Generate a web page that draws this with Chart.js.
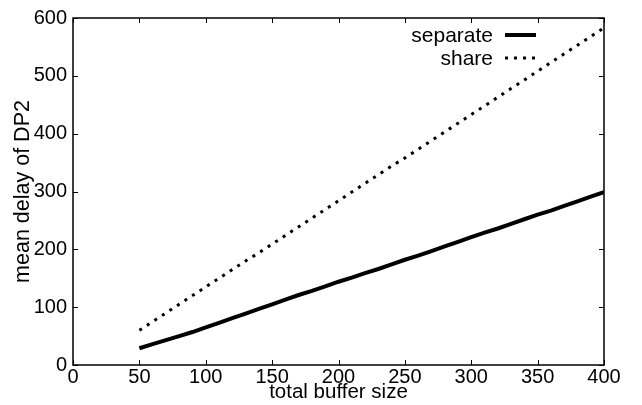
<!DOCTYPE html>
<html>
<head>
<meta charset="utf-8">
<script src="https://cdn.jsdelivr.net/npm/chart.js@4/dist/chart.umd.min.js"></script>
<style>
  html, body { margin: 0; padding: 0; background: #fff; }
  #wrap { width: 642px; height: 405px; }
</style>
</head>
<body>
<div id="wrap"><canvas id="delay-chart" width="642" height="405"></canvas></div>
<script>
// total buffer size
const bufferSizes = [50, 60, 70, 80, 90, 100, 110, 120, 130, 140, 150, 160, 170, 180, 190, 200, 210, 220,
    230, 240, 250, 260, 270, 280, 290, 300, 310, 320, 330, 340, 350, 360, 370, 380, 390, 400];
// mean delay of DP2
const separateDelay = [29, 36, 43, 50, 57, 65, 73, 81, 89, 97, 105, 113, 121, 128, 136, 144, 151, 159,
    166, 174, 182, 189, 197, 205, 213, 221, 229, 236, 244, 252, 260, 267, 275, 283, 291, 299];
const shareDelay = [60, 75, 90, 105, 120, 135, 150, 165, 180, 194, 209, 224, 239, 254, 269, 284, 299, 314,
    329, 344, 358, 373, 388, 403, 418, 433, 448, 463, 478, 493, 508, 523, 538, 553, 568, 583];
const xTicks = [0, 50, 100, 150, 200, 250, 300, 350, 400];
const yTicks = [0, 100, 200, 300, 400, 500, 600];
const seriesNames = ['separate', 'share'];

const FONT = 'Liberation Sans, Arial, Helvetica, sans-serif';

function toPoints(xs, ys) {
    return xs.map((x, i) => ({ x: x, y: ys[i] }));
}

// gnuplot-like frame with inward ticks on all four sides + key in the top right
const framePlugin = {
    id: 'frame',
    afterDraw(chart) {
        const ctx = chart.ctx;
        const a = chart.chartArea;
        const xs = chart.scales.x;
        const ys = chart.scales.y;
        ctx.save();
        ctx.strokeStyle = '#000';
        ctx.lineWidth = 1.5;
        ctx.strokeRect(a.left, a.top, a.right - a.left, a.bottom - a.top);
        ctx.lineWidth = 1;
        ctx.beginPath();
        xTicks.forEach(v => {
            const px = Math.round(xs.getPixelForValue(v)) + 0.5;
            ctx.moveTo(px, a.bottom); ctx.lineTo(px, a.bottom - 5);
            ctx.moveTo(px, a.top); ctx.lineTo(px, a.top + 5);
        });
        yTicks.forEach(v => {
            const py = Math.round(ys.getPixelForValue(v)) + 0.5;
            ctx.moveTo(a.left, py); ctx.lineTo(a.left + 5, py);
            ctx.moveTo(a.right, py); ctx.lineTo(a.right - 5, py);
        });
        ctx.stroke();

        // key
        const textRight = 493;
        const lineX0 = 505, lineX1 = 536;
        const rows = [35, 58];
        ctx.font = '21px ' + FONT;
        ctx.fillStyle = '#000';
        ctx.textAlign = 'right';
        ctx.textBaseline = 'middle';
        chart.data.datasets.forEach((ds, i) => {
            const y = rows[i];
            ctx.fillText(ds.label, textRight, y + 1);
            ctx.beginPath();
            ctx.lineWidth = ds.borderWidth;
            ctx.setLineDash(ds.borderDash || []);
            ctx.moveTo(lineX0, y); ctx.lineTo(lineX1, y);
            ctx.stroke();
        });
        ctx.restore();
    }
};

const ctx = document.getElementById('delay-chart').getContext('2d');
const delayChart = new Chart(ctx, {
    type: 'line',
    plugins: [framePlugin],
    data: {
        datasets: [
            {
                label: seriesNames[0],
                data: toPoints(bufferSizes, separateDelay),
                borderColor: '#000',
                borderWidth: 4,
                pointRadius: 0,
                tension: 0
            },
            {
                label: seriesNames[1],
                data: toPoints(bufferSizes, shareDelay),
                borderColor: '#000',
                borderWidth: 3,
                borderDash: [3, 6],
                borderCapStyle: 'butt',
                pointRadius: 0,
                tension: 0
            }
        ]
    },
    options: {
        responsive: false,
        animation: false,
        devicePixelRatio: 1,
        layout: { padding: { top: 13, right: 38, left: 0, bottom: 0 } },
        plugins: {
            legend: { display: false },
            tooltip: { enabled: false }
        },
        scales: {
            x: {
                type: 'linear',
                min: 0,
                max: 400,
                afterBuildTicks(scale) { scale.ticks = xTicks.map(v => ({ value: v })); },
                afterFit(scale) { scale.height = 40; },
                grid: { display: false, drawTicks: false },
                border: { display: false },
                ticks: { color: '#000', font: { family: FONT, size: 20 }, padding: 0, maxRotation: 0 },
                title: {
                    display: true,
                    text: 'total buffer size',
                    color: '#000',
                    font: { family: FONT, size: 20.5 },
                    padding: { top: 0, bottom: 0 }
                }
            },
            y: {
                type: 'linear',
                min: 0,
                max: 600,
                afterBuildTicks(scale) { scale.ticks = yTicks.map(v => ({ value: v })); },
                afterFit(scale) { scale.width = 73; },
                grid: { display: false, drawTicks: false },
                border: { display: false },
                ticks: { color: '#000', font: { family: FONT, size: 20 }, padding: 6 },
                title: {
                    display: true,
                    text: 'mean delay of DP2',
                    color: '#000',
                    font: { family: FONT, size: 21.5 },
                    padding: { top: 10, bottom: 0 }
                }
            }
        }
    }
});
</script>
</body>
</html>
